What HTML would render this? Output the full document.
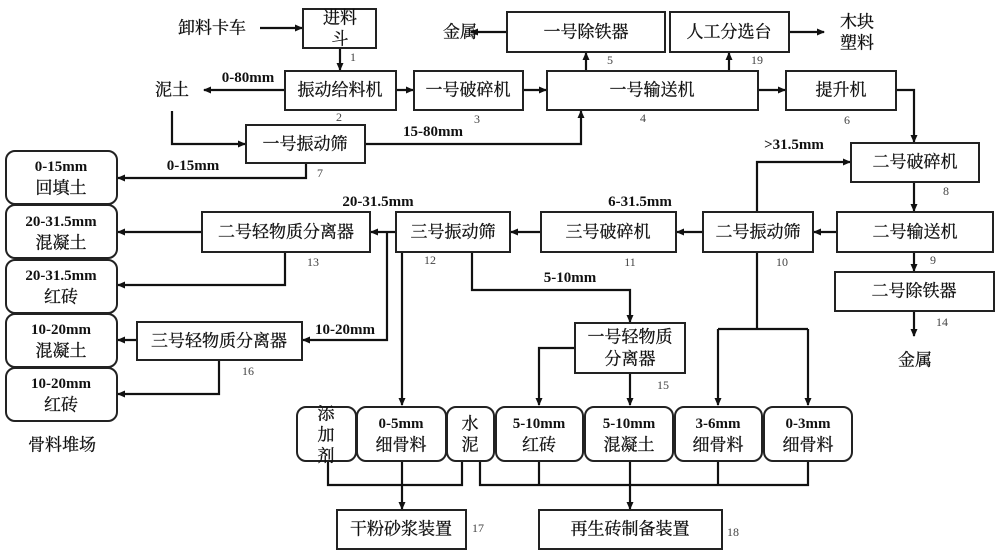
<!DOCTYPE html>
<html><head><meta charset="utf-8"><style>
html,body{margin:0;padding:0;background:#fff}
svg{display:block}
.t{font-family:"Liberation Serif","Noto Serif CJK SC",serif;font-size:17px;fill:#111;text-anchor:middle;dominant-baseline:central;stroke:#111;stroke-width:0.3}
.b{font-family:"Liberation Serif","Noto Serif CJK SC",serif;font-size:15px;font-weight:bold;fill:#111;text-anchor:middle;dominant-baseline:central}
.n{font-family:"Liberation Serif",serif;font-size:12px;fill:#444;text-anchor:middle;dominant-baseline:central}
rect{fill:#fff;stroke:#222;stroke-width:2}
path.l{fill:none;stroke:#111;stroke-width:2.2}
</style></head><body>
<svg width="1000" height="555" viewBox="0 0 1000 555" xmlns="http://www.w3.org/2000/svg">
<defs><marker id="a" markerWidth="8" markerHeight="8" refX="7" refY="4" orient="auto" markerUnits="userSpaceOnUse"><path d="M0,0.5 L8,4 L0,7.5 z" fill="#111"/></marker></defs>
<g class="c">
<path class="l" d="M260,28 H302" marker-end="url(#a)"/>
<path class="l" d="M340,48 V70" marker-end="url(#a)"/>
<path class="l" d="M285,90 H204" marker-end="url(#a)"/>
<path class="l" d="M396,90 H413" marker-end="url(#a)"/>
<path class="l" d="M523,90 H546" marker-end="url(#a)"/>
<path class="l" d="M758,90 H785" marker-end="url(#a)"/>
<path class="l" d="M586,71 V53" marker-end="url(#a)"/>
<path class="l" d="M729,71 V53" marker-end="url(#a)"/>
<path class="l" d="M507,32 H471" marker-end="url(#a)"/>
<path class="l" d="M789,32 H824" marker-end="url(#a)"/>
<path class="l" d="M896,90 H914 V142" marker-end="url(#a)"/>
<path class="l" d="M172,111 V144 H245" marker-end="url(#a)"/>
<path class="l" d="M365,144 H581 V111" marker-end="url(#a)"/>
<path class="l" d="M306,163 V178 H118" marker-end="url(#a)"/>
<path class="l" d="M914,182 V211" marker-end="url(#a)"/>
<path class="l" d="M914,252 V271" marker-end="url(#a)"/>
<path class="l" d="M914,311 V336" marker-end="url(#a)"/>
<path class="l" d="M837,232 H814" marker-end="url(#a)"/>
<path class="l" d="M757,212 V162 H850" marker-end="url(#a)"/>
<path class="l" d="M703,232 H677" marker-end="url(#a)"/>
<path class="l" d="M541,232 H511" marker-end="url(#a)"/>
<path class="l" d="M396,232 H371" marker-end="url(#a)"/>
<path class="l" d="M202,232 H118" marker-end="url(#a)"/>
<path class="l" d="M285,252 V285 H118" marker-end="url(#a)"/>
<path class="l" d="M387,232 V340 H303" marker-end="url(#a)"/>
<path class="l" d="M137,340 H118" marker-end="url(#a)"/>
<path class="l" d="M219,360 V394 H118" marker-end="url(#a)"/>
<path class="l" d="M402,252 V405" marker-end="url(#a)"/>
<path class="l" d="M472,252 V290 H630 V322" marker-end="url(#a)"/>
<path class="l" d="M575,348 H539 V405" marker-end="url(#a)"/>
<path class="l" d="M630,373 V405" marker-end="url(#a)"/>
<path class="l" d="M757,252 V329"/>
<path class="l" d="M718,329 H808"/>
<path class="l" d="M718,329 V405" marker-end="url(#a)"/>
<path class="l" d="M808,329 V405" marker-end="url(#a)"/>
<path class="l" d="M328,461 V485 H462 V461"/>
<path class="l" d="M402,461 V509" marker-end="url(#a)"/>
<path class="l" d="M480,461 V485 H808 V461"/>
<path class="l" d="M539,461 V485"/>
<path class="l" d="M718,461 V485"/>
<path class="l" d="M630,461 V509" marker-end="url(#a)"/>
</g>
<rect x="303" y="9" width="73" height="39"/>
<rect x="285" y="71" width="111" height="39"/>
<rect x="414" y="71" width="109" height="39"/>
<rect x="547" y="71" width="211" height="39"/>
<rect x="786" y="71" width="110" height="39"/>
<rect x="507" y="12" width="158" height="40"/>
<rect x="670" y="12" width="119" height="40"/>
<rect x="246" y="125" width="119" height="38"/>
<rect x="851" y="143" width="128" height="39"/>
<rect x="837" y="212" width="156" height="40"/>
<rect x="835" y="272" width="159" height="39"/>
<rect x="703" y="212" width="110" height="40"/>
<rect x="541" y="212" width="135" height="40"/>
<rect x="396" y="212" width="114" height="40"/>
<rect x="202" y="212" width="168" height="40"/>
<rect x="137" y="322" width="165" height="38"/>
<rect x="575" y="323" width="110" height="50"/>
<rect x="337" y="510" width="129" height="39"/>
<rect x="539" y="510" width="183" height="39"/>
<g>
<rect x="6" y="151" width="111" height="53" rx="9"/>
<rect x="6" y="205" width="111" height="53" rx="9"/>
<rect x="6" y="260" width="111" height="53" rx="9"/>
<rect x="6" y="314" width="111" height="53" rx="9"/>
<rect x="6" y="368" width="111" height="53" rx="9"/>
<rect x="297" y="407" width="59" height="54" rx="9"/>
<rect x="357" y="407" width="89" height="54" rx="9"/>
<rect x="447" y="407" width="47" height="54" rx="9"/>
<rect x="496" y="407" width="87" height="54" rx="9"/>
<rect x="585" y="407" width="88" height="54" rx="9"/>
<rect x="675" y="407" width="87" height="54" rx="9"/>
<rect x="764" y="407" width="88" height="54" rx="9"/>
</g>
<text class="t" x="212" y="28">卸料卡车</text>
<text class="t" x="340" y="18">进料</text><text class="t" x="340" y="39">斗</text>
<text class="t" x="340" y="90">振动给料机</text>
<text class="t" x="468" y="90">一号破碎机</text>
<text class="t" x="652" y="90">一号输送机</text>
<text class="t" x="841" y="90">提升机</text>
<text class="t" x="586" y="32">一号除铁器</text>
<text class="t" x="729" y="32">人工分选台</text>
<text class="t" x="460" y="32">金属</text>
<text class="t" x="857" y="22">木块</text><text class="t" x="857" y="43">塑料</text>
<text class="t" x="172" y="90">泥土</text>
<text class="t" x="305" y="144">一号振动筛</text>
<text class="t" x="915" y="162">二号破碎机</text>
<text class="t" x="915" y="232">二号输送机</text>
<text class="t" x="914" y="291">二号除铁器</text>
<text class="t" x="915" y="360">金属</text>
<text class="t" x="758" y="232">二号振动筛</text>
<text class="t" x="608" y="232">三号破碎机</text>
<text class="t" x="453" y="232">三号振动筛</text>
<text class="t" x="286" y="232">二号轻物质分离器</text>
<text class="t" x="219" y="341">三号轻物质分离器</text>
<text class="t" x="630" y="337">一号轻物质</text><text class="t" x="630" y="359">分离器</text>
<text class="t" x="401" y="529">干粉砂浆装置</text>
<text class="t" x="630" y="529">再生砖制备装置</text>
<text class="t" x="62" y="445">骨料堆场</text>
<text class="b" x="61" y="167">0-15mm</text><text class="t" x="61" y="188">回填土</text>
<text class="b" x="61" y="222">20-31.5mm</text><text class="t" x="61" y="243">混凝土</text>
<text class="b" x="61" y="276">20-31.5mm</text><text class="t" x="61" y="297">红砖</text>
<text class="b" x="61" y="330">10-20mm</text><text class="t" x="61" y="351">混凝土</text>
<text class="b" x="61" y="384">10-20mm</text><text class="t" x="61" y="405">红砖</text>
<text class="t" x="326" y="414">添</text><text class="t" x="326" y="435">加</text><text class="t" x="326" y="456">剂</text>
<text class="b" x="401" y="424">0-5mm</text><text class="t" x="401" y="445">细骨料</text>
<text class="t" x="470" y="424">水</text><text class="t" x="470" y="445">泥</text>
<text class="b" x="539" y="424">5-10mm</text><text class="t" x="539" y="445">红砖</text>
<text class="b" x="629" y="424">5-10mm</text><text class="t" x="629" y="445">混凝土</text>
<text class="b" x="718" y="424">3-6mm</text><text class="t" x="718" y="445">细骨料</text>
<text class="b" x="808" y="424">0-3mm</text><text class="t" x="808" y="445">细骨料</text>
<text class="b" x="248" y="78">0-80mm</text>
<text class="b" x="433" y="132">15-80mm</text>
<text class="b" x="193" y="166">0-15mm</text>
<text class="b" x="794" y="145">&gt;31.5mm</text>
<text class="b" x="640" y="202">6-31.5mm</text>
<text class="b" x="378" y="202">20-31.5mm</text>
<text class="b" x="570" y="278">5-10mm</text>
<text class="b" x="345" y="330">10-20mm</text>
<text class="n" x="353" y="57">1</text>
<text class="n" x="339" y="117">2</text>
<text class="n" x="477" y="119">3</text>
<text class="n" x="643" y="118">4</text>
<text class="n" x="610" y="60">5</text>
<text class="n" x="847" y="120">6</text>
<text class="n" x="320" y="173">7</text>
<text class="n" x="946" y="191">8</text>
<text class="n" x="933" y="260">9</text>
<text class="n" x="782" y="262">10</text>
<text class="n" x="630" y="262">11</text>
<text class="n" x="430" y="260">12</text>
<text class="n" x="313" y="262">13</text>
<text class="n" x="942" y="322">14</text>
<text class="n" x="663" y="385">15</text>
<text class="n" x="248" y="371">16</text>
<text class="n" x="478" y="528">17</text>
<text class="n" x="733" y="532">18</text>
<text class="n" x="757" y="60">19</text>
</svg>
</body></html>
